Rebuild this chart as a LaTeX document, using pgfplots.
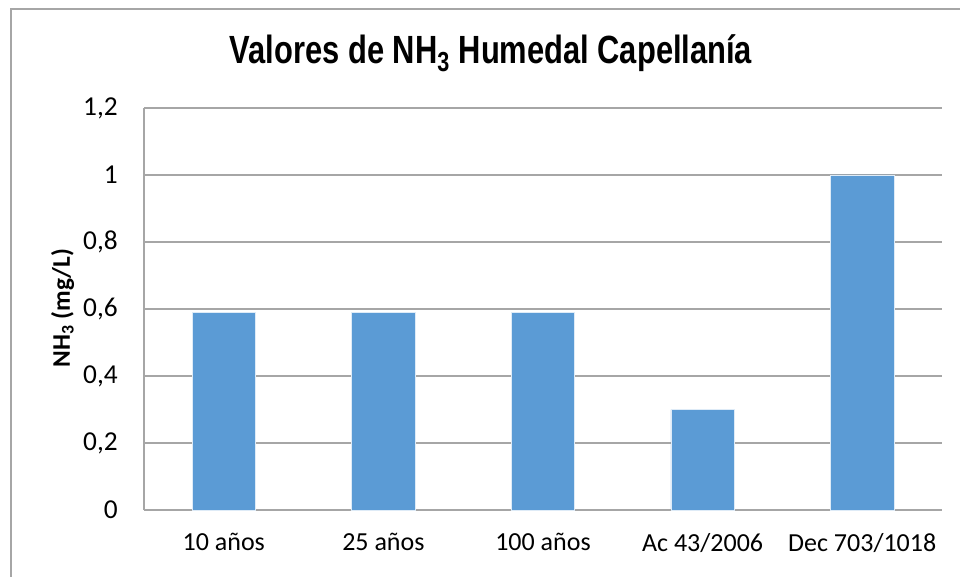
\documentclass[border=0pt]{standalone}
\usepackage{fontspec}
\setmainfont{Carlito}
\newfontfamily\titlefont[FakeStretch=0.785]{Liberation Sans}
\usepackage{pgfplots}
\pgfplotsset{compat=1.18}
\definecolor{barblue}{HTML}{5B9BD5}
\definecolor{gridgray}{HTML}{A6A6A6}
\begin{document}
\begin{tikzpicture}
\useasboundingbox (0,0) rectangle (720pt,-432.75pt);
\draw[gridgray, line width=0.8pt] (8.25pt,-432.75pt) -- (8.25pt,-6.75pt) -- (720pt,-6.75pt);
\node[anchor=base, inner sep=0pt, font=\titlefont\fontsize{29.5}{33}\selectfont\bfseries] at (368.25pt,-47.5pt) {Valores de NH\textsubscript{3} Humedal Capellanía};
\node[rotate=90, inner sep=0pt, font=\fontsize{19}{22}\selectfont\bfseries] at (47pt,-231pt) {NH\textsubscript{3} (mg/L)};
\begin{axis}[
  at={(108pt,-382.5pt)}, anchor=south west,
  scale only axis, width=598.5pt, height=301.5pt,
  xmin=-0.5, xmax=4.5, ymin=0, ymax=1.2,
  xtick=data,
  xticklabels={10 años, 25 años, 100 años, Ac 43/2006, Dec 703/1018},
  ytick={0,0.2,0.4,0.6,0.8,1,1.2},
  /pgf/number format/.cd, use comma, fixed, precision=1, assume math mode=true,
  /pgfplots/.cd,
  axis lines*=left,
  axis line style={gridgray, line width=0.8pt},
  ymajorgrids, grid style={gridgray, line width=0.8pt},
  major tick length=0pt,
  tick label style={font=\fontsize{19.5}{22}\selectfont, inner sep=0pt},
  yticklabel style={anchor=east, xshift=-19.5pt, font=\fontsize{20.5}{22}\selectfont},
  xticklabel style={anchor=north, yshift=-17.5pt},
  clip=false,
]
\addplot[ybar, bar width=47.5pt, fill=barblue, draw=white!80!barblue, line width=0.5pt]
 coordinates {(0,0.59) (1,0.59) (2,0.59) (3,0.3) (4,1.0)};
\end{axis}
\end{tikzpicture}
\end{document}
